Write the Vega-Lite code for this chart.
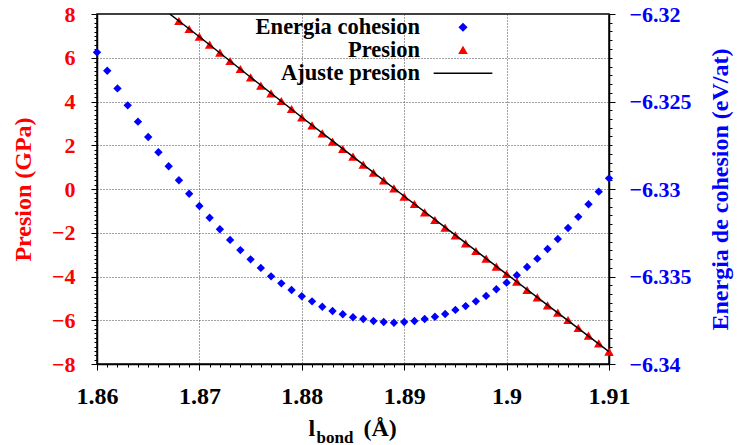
{
  "$schema": "https://vega.github.io/schema/vega-lite/v6.json",
  "width": 512,
  "height": 350,
  "autosize": {"type": "none"},
  "padding": {"left": 97, "top": 14, "right": 130, "bottom": 81},
  "background": "white",
  "config": {
    "view": {"stroke": "black", "strokeWidth": 1.5},
    "font": "Liberation Serif"
  },
  "datasets": {
    "energy": [
      {"l": 1.860, "E": -6.32219}, {"l": 1.861, "E": -6.32324}, {"l": 1.862, "E": -6.32425}, {"l": 1.863, "E": -6.32522},
      {"l": 1.864, "E": -6.32615}, {"l": 1.865, "E": -6.32703}, {"l": 1.866, "E": -6.32790}, {"l": 1.867, "E": -6.32870},
      {"l": 1.868, "E": -6.32950}, {"l": 1.869, "E": -6.33027}, {"l": 1.870, "E": -6.33097}, {"l": 1.871, "E": -6.33164},
      {"l": 1.872, "E": -6.33230}, {"l": 1.873, "E": -6.33291}, {"l": 1.874, "E": -6.33349}, {"l": 1.875, "E": -6.33402},
      {"l": 1.876, "E": -6.33451}, {"l": 1.877, "E": -6.33499}, {"l": 1.878, "E": -6.33539}, {"l": 1.879, "E": -6.33577},
      {"l": 1.880, "E": -6.33613}, {"l": 1.881, "E": -6.33642}, {"l": 1.882, "E": -6.33673}, {"l": 1.883, "E": -6.33697},
      {"l": 1.884, "E": -6.33716}, {"l": 1.885, "E": -6.33733}, {"l": 1.886, "E": -6.33743}, {"l": 1.887, "E": -6.33754},
      {"l": 1.888, "E": -6.33760}, {"l": 1.889, "E": -6.33764}, {"l": 1.890, "E": -6.33760}, {"l": 1.891, "E": -6.33754},
      {"l": 1.892, "E": -6.33743}, {"l": 1.893, "E": -6.33730}, {"l": 1.894, "E": -6.33714}, {"l": 1.895, "E": -6.33691},
      {"l": 1.896, "E": -6.33669}, {"l": 1.897, "E": -6.33642}, {"l": 1.898, "E": -6.33611}, {"l": 1.899, "E": -6.33573},
      {"l": 1.900, "E": -6.33535}, {"l": 1.901, "E": -6.33493}, {"l": 1.902, "E": -6.33446}, {"l": 1.903, "E": -6.33398},
      {"l": 1.904, "E": -6.33343}, {"l": 1.905, "E": -6.33286}, {"l": 1.906, "E": -6.33223}, {"l": 1.907, "E": -6.33159},
      {"l": 1.908, "E": -6.33087}, {"l": 1.909, "E": -6.33015}, {"l": 1.910, "E": -6.32939}
    ],
    "pressure": [
      {"l": 1.868, "P": 7.680}, {"l": 1.869, "P": 7.314}, {"l": 1.870, "P": 6.962}, {"l": 1.871, "P": 6.597},
      {"l": 1.872, "P": 6.231}, {"l": 1.873, "P": 5.851}, {"l": 1.874, "P": 5.486}, {"l": 1.875, "P": 5.106},
      {"l": 1.876, "P": 4.722}, {"l": 1.877, "P": 4.375}, {"l": 1.878, "P": 4.023}, {"l": 1.879, "P": 3.657},
      {"l": 1.880, "P": 3.278}, {"l": 1.881, "P": 2.912}, {"l": 1.882, "P": 2.546}, {"l": 1.883, "P": 2.162},
      {"l": 1.884, "P": 1.829}, {"l": 1.885, "P": 1.477}, {"l": 1.886, "P": 1.111}, {"l": 1.887, "P": 0.745},
      {"l": 1.888, "P": 0.398}, {"l": 1.889, "P": 0.032}, {"l": 1.890, "P": -0.352}, {"l": 1.891, "P": -0.686},
      {"l": 1.892, "P": -1.065}, {"l": 1.893, "P": -1.417}, {"l": 1.894, "P": -1.769}, {"l": 1.895, "P": -2.117},
      {"l": 1.896, "P": -2.482}, {"l": 1.897, "P": -2.834}, {"l": 1.898, "P": -3.186}, {"l": 1.899, "P": -3.552},
      {"l": 1.900, "P": -3.886}, {"l": 1.901, "P": -4.238}, {"l": 1.902, "P": -4.617}, {"l": 1.903, "P": -4.951},
      {"l": 1.904, "P": -5.317}, {"l": 1.905, "P": -5.655}, {"l": 1.906, "P": -5.989}, {"l": 1.907, "P": -6.354},
      {"l": 1.908, "P": -6.706}, {"l": 1.909, "P": -7.054}, {"l": 1.910, "P": -7.438}
    ],
    "fit": [
      {"l": 1.8671, "P": 8.0}, {"l": 1.870, "P": 6.96}, {"l": 1.875, "P": 5.11}, {"l": 1.880, "P": 3.28},
      {"l": 1.885, "P": 1.48}, {"l": 1.890, "P": -0.33}, {"l": 1.895, "P": -2.11}, {"l": 1.900, "P": -3.89},
      {"l": 1.905, "P": -5.66}, {"l": 1.910, "P": -7.44}
    ]
  },
  "resolve": {
    "scale": {"y": "independent"},
    "axis": {"x": "independent", "y": "independent"}
  },
  "layer": [
    {
      "data": {"name": "energy"},
      "mark": {"type": "point", "filled": true, "size": 70, "opacity": 1},
      "encoding": {
        "x": {
          "field": "l", "type": "quantitative",
          "scale": {"domain": [1.86, 1.91], "nice": false, "zero": false},
          "axis": {
            "orient": "bottom",
            "values": [1.86,1.861,1.862,1.863,1.864,1.865,1.866,1.867,1.868,1.869,1.87,1.871,1.872,1.873,1.874,1.875,1.876,1.877,1.878,1.879,1.88,1.881,1.882,1.883,1.884,1.885,1.886,1.887,1.888,1.889,1.89,1.891,1.892,1.893,1.894,1.895,1.896,1.897,1.898,1.899,1.9,1.901,1.902,1.903,1.904,1.905,1.906,1.907,1.908,1.909,1.91],
            "format": "~g",
            "labelExpr": "abs(datum.value*100 - round(datum.value*100)) < 1e-6 ? datum.label : ''",
            "tickSize": {"condition": {"test": "abs(datum.value*100 - round(datum.value*100)) < 1e-6", "value": 6}, "value": 3},
            "grid": true,
            "gridOpacity": {"condition": {"test": "abs(datum.value*100 - round(datum.value*100)) < 1e-6", "value": 1}, "value": 0},
            "gridDash": [1, 2], "gridColor": "#444", "gridWidth": 1,
            "labelOverlap": false, "labelFlush": false,
            "labelFont": "Liberation Serif", "labelFontSize": 24, "labelFontWeight": "bold", "labelColor": "black",
            "labelPadding": 14,
            "domainColor": "black", "domainWidth": 1.5, "tickColor": "black", "tickWidth": 1,
            "title": "l", "titleX": 211, "titleY": 71, "titleAlign": "left", "titleBaseline": "alphabetic", "titleAngle": 0,
            "titleFont": "Liberation Serif", "titleFontSize": 24, "titleFontWeight": "bold", "titleColor": "black"
          }
        },
        "y": {
          "field": "E", "type": "quantitative",
          "scale": {"domain": [-6.34, -6.32], "nice": false, "zero": false},
          "axis": {
            "orient": "right",
            "values": [-6.34,-6.3395,-6.339,-6.3385,-6.338,-6.3375,-6.337,-6.3365,-6.336,-6.3355,-6.335,-6.3345,-6.334,-6.3335,-6.333,-6.3325,-6.332,-6.3315,-6.331,-6.3305,-6.33,-6.3295,-6.329,-6.3285,-6.328,-6.3275,-6.327,-6.3265,-6.326,-6.3255,-6.325,-6.3245,-6.324,-6.3235,-6.323,-6.3225,-6.322,-6.3215,-6.321,-6.3205,-6.32],
            "format": "~g",
            "labelExpr": "abs(datum.value*200 - round(datum.value*200)) < 1e-6 ? datum.label : ''",
            "tickSize": {"condition": {"test": "abs(datum.value*200 - round(datum.value*200)) < 1e-6", "value": 6}, "value": 3},
            "grid": false,
            "labelOverlap": false, "labelFlush": false,
            "labelFont": "Liberation Serif", "labelFontSize": 22, "labelFontWeight": "bold", "labelColor": "#0000ff",
            "labelPadding": 14,
            "domainColor": "black", "domainWidth": 1.5, "tickColor": "black", "tickWidth": 1,
            "title": "Energia de cohesion (eV/at)", "titleX": 111, "titleY": 175, "titleAngle": 270,
            "titleAlign": "center", "titleBaseline": "middle",
            "titleFont": "Liberation Serif", "titleFontSize": 24, "titleFontWeight": "bold", "titleColor": "#0000ff"
          }
        },
        "shape": {
          "datum": "Energia cohesion",
          "scale": {"domain": ["Energia cohesion", "Presion", "Ajuste presion"], "range": ["diamond", "triangle-up", "M-8.3,0H8.3"]},
          "legend": {
            "title": null, "orient": "none", "legendX": 354.75, "legendY": 2, "padding": 0, "rowPadding": -5,
            "direction": "vertical",
            "labelFont": "Liberation Serif", "labelFontSize": 22.5, "labelFontWeight": "bold", "labelColor": "black",
            "labelAlign": "right", "labelOffset": -54.25, "labelLimit": 400,
            "symbolSize": 50, "symbolStrokeWidth": 1.5,
            "encode": {
              "symbols": {
                "update": {
                  "fill": {"scale": "color", "field": "value"},
                  "stroke": {"scale": "color", "field": "value"},
                  "strokeWidth": {"value": 1.5},
                  "opacity": {"value": 1}
                }
              }
            }
          }
        },
        "color": {
          "datum": "Energia cohesion",
          "scale": {"domain": ["Energia cohesion", "Presion", "Ajuste presion"], "range": ["#0000ff", "#ff0000", "#000000"]},
          "legend": {
            "title": null, "orient": "none", "legendX": 354.75, "legendY": 2, "padding": 0, "rowPadding": -5,
            "direction": "vertical",
            "labelFont": "Liberation Serif", "labelFontSize": 22.5, "labelFontWeight": "bold", "labelColor": "black",
            "labelAlign": "right", "labelOffset": -54.25, "labelLimit": 400,
            "symbolSize": 50, "symbolStrokeWidth": 1.5,
            "encode": {
              "symbols": {
                "update": {
                  "fill": {"scale": "color", "field": "value"},
                  "stroke": {"scale": "color", "field": "value"},
                  "strokeWidth": {"value": 1.5},
                  "opacity": {"value": 1}
                }
              }
            }
          }
        }
      }
    },
    {
      "data": {"name": "pressure"},
      "mark": {"type": "point", "filled": true, "size": 90, "opacity": 1},
      "encoding": {
        "x": {
          "field": "l", "type": "quantitative",
          "axis": {
            "orient": "bottom", "labels": false, "ticks": false, "domain": false, "grid": false,
            "title": "(Å)", "titleX": 266, "titleY": 71, "titleAlign": "left", "titleBaseline": "alphabetic", "titleAngle": 0,
            "titleFont": "Liberation Serif", "titleFontSize": 24, "titleFontWeight": "bold", "titleColor": "black"
          }
        },
        "y": {
          "field": "P", "type": "quantitative",
          "scale": {"domain": [-8, 8], "nice": false, "zero": false},
          "axis": {
            "orient": "left",
            "values": [-8,-7.8,-7.6,-7.4,-7.2,-7,-6.8,-6.6,-6.4,-6.2,-6,-5.8,-5.6,-5.4,-5.2,-5,-4.8,-4.6,-4.4,-4.2,-4,-3.8,-3.6,-3.4,-3.2,-3,-2.8,-2.6,-2.4,-2.2,-2,-1.8,-1.6,-1.4,-1.2,-1,-0.8,-0.6,-0.4,-0.2,0,0.2,0.4,0.6,0.8,1,1.2,1.4,1.6,1.8,2,2.2,2.4,2.6,2.8,3,3.2,3.4,3.6,3.8,4,4.2,4.4,4.6,4.8,5,5.2,5.4,5.6,5.8,6,6.2,6.4,6.6,6.8,7,7.2,7.4,7.6,7.8,8],
            "format": "~g",
            "labelExpr": "abs(datum.value/2 - round(datum.value/2)) < 1e-6 ? datum.label : ''",
            "tickSize": {"condition": {"test": "abs(datum.value/2 - round(datum.value/2)) < 1e-6", "value": 6}, "value": 3},
            "grid": true,
            "gridOpacity": {"condition": {"test": "abs(datum.value/2 - round(datum.value/2)) < 1e-6", "value": 1}, "value": 0},
            "gridDash": [1, 2], "gridColor": "#444", "gridWidth": 1,
            "labelOverlap": false, "labelFlush": false,
            "labelFont": "Liberation Serif", "labelFontSize": 22, "labelFontWeight": "bold", "labelColor": "#ff0000",
            "labelPadding": 16,
            "domainColor": "black", "domainWidth": 1.5, "tickColor": "black", "tickWidth": 1,
            "title": "Presion (GPa)", "titleX": -74, "titleY": 175, "titleAngle": 270,
            "titleAlign": "center", "titleBaseline": "middle",
            "titleFont": "Liberation Serif", "titleFontSize": 24, "titleFontWeight": "bold", "titleColor": "#ff0000"
          }
        },
        "shape": {"datum": "Presion"},
        "color": {"datum": "Presion"}
      }
    },
    {
      "data": {"name": "fit"},
      "mark": {"type": "line", "strokeWidth": 1.5, "clip": true},
      "encoding": {
        "x": {
          "field": "l", "type": "quantitative",
          "axis": {
            "orient": "bottom", "labels": false, "ticks": false, "domain": false, "grid": false,
            "title": "bond", "titleX": 219, "titleY": 78, "titleAlign": "left", "titleBaseline": "alphabetic", "titleAngle": 0,
            "titleFont": "Liberation Serif", "titleFontSize": 17, "titleFontWeight": "bold", "titleColor": "black"
          }
        },
        "y": {
          "field": "P", "type": "quantitative",
          "scale": {"domain": [-8, 8], "nice": false, "zero": false},
          "axis": null
        },
        "color": {"datum": "Ajuste presion"}
      }
    }
  ]
}
